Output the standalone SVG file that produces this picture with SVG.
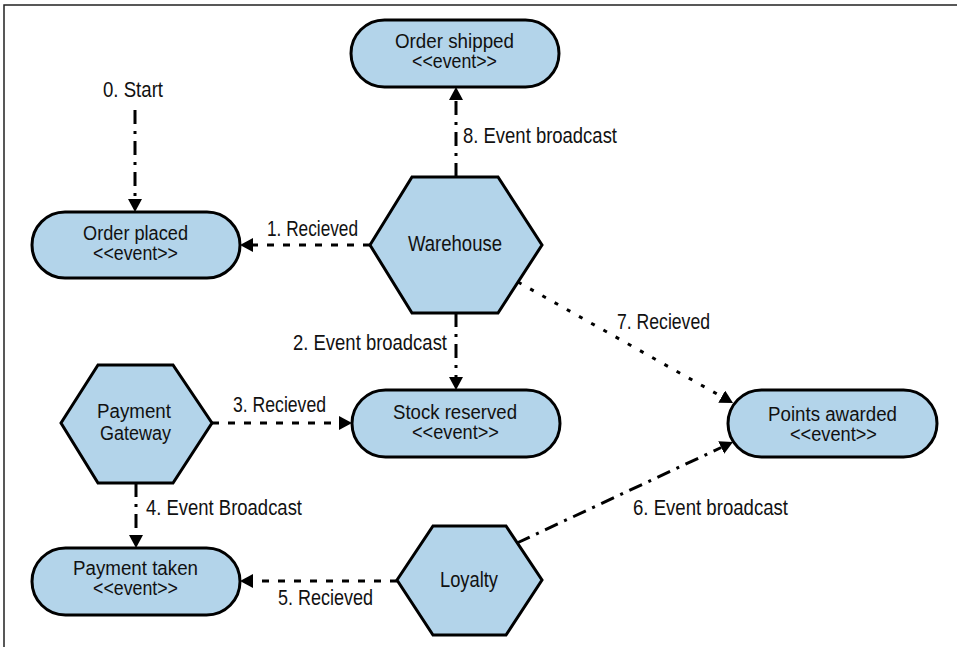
<svg xmlns="http://www.w3.org/2000/svg" width="957" height="647" viewBox="0 0 957 647">
<defs>
<marker id="ah" markerUnits="userSpaceOnUse" markerWidth="14" markerHeight="14" viewBox="0 0 14 14" refX="0" refY="7" orient="auto">
<path d="M0,0 L13,7 L0,14 z" fill="#000"/>
</marker>
<style>
.ev{fill:#b3d4ea;stroke:#000;stroke-width:3}
.hex{fill:#b3d4ea;stroke:#000;stroke-width:3;stroke-linejoin:miter}
text{font-family:"Liberation Sans Narrow","Liberation Sans",Arial,sans-serif;font-size:22px;fill:#111}
.t2{font-size:20px}
.c{fill:none;stroke:#000;stroke-width:3;marker-end:url(#ah)}
.dd{stroke-dasharray:14 7 3 7}
.ds{stroke-dasharray:7 9}
.dt{stroke-dasharray:4 10}
.frame{stroke:#222;stroke-width:1.5;fill:none}
</style>
</defs>
<rect width="957" height="647" fill="#fff"/>
<path class="frame" d="M4,647 L4,5 L957,5"/>

<g id="connectors">
<line class="c dd" x1="135" y1="110" x2="135" y2="199"/>
<line class="c ds" x1="370" y1="245" x2="253" y2="245"/>
<line class="c dd" x1="456" y1="177" x2="456" y2="100"/>
<line class="c dd" x1="456" y1="313" x2="456" y2="377"/>
<line class="c dt" x1="518" y1="282" x2="721.7" y2="396.6"/>
<line class="c ds" x1="212" y1="423" x2="339" y2="423"/>
<line class="c dd" x1="136" y1="483" x2="136" y2="535"/>
<line class="c ds" x1="397" y1="581" x2="253" y2="581"/>
<line class="c dd" x1="517" y1="543" x2="721.2" y2="447.5"/>
<text x="103" y="97" textLength="60" lengthAdjust="spacingAndGlyphs">0. Start</text>
<text x="267" y="236" textLength="91" lengthAdjust="spacingAndGlyphs">1. Recieved</text>
<text x="463" y="143" textLength="154" lengthAdjust="spacingAndGlyphs">8. Event broadcast</text>
<text x="293" y="350" textLength="154" lengthAdjust="spacingAndGlyphs">2. Event broadcast</text>
<text x="617" y="329" textLength="93" lengthAdjust="spacingAndGlyphs">7. Recieved</text>
<text x="233" y="412" textLength="93" lengthAdjust="spacingAndGlyphs">3. Recieved</text>
<text x="146" y="515" textLength="156" lengthAdjust="spacingAndGlyphs">4. Event Broadcast</text>
<text x="633" y="515" textLength="155" lengthAdjust="spacingAndGlyphs">6. Event broadcast</text>
<text x="278" y="605" textLength="95" lengthAdjust="spacingAndGlyphs">5. Recieved</text>
</g>

<g id="order-shipped">
<rect class="ev" x="351" y="20" width="208" height="67" rx="33.5"/>
<text class="t2" x="395" y="48" textLength="119" lengthAdjust="spacingAndGlyphs">Order shipped</text>
<text class="t2" x="412" y="68" textLength="85" lengthAdjust="spacingAndGlyphs">&lt;&lt;event&gt;&gt;</text>
</g>

<g id="order-placed">
<rect class="ev" x="32" y="212" width="208" height="66" rx="33"/>
<text class="t2" x="83" y="240" textLength="105" lengthAdjust="spacingAndGlyphs">Order placed</text>
<text class="t2" x="93" y="260" textLength="85" lengthAdjust="spacingAndGlyphs">&lt;&lt;event&gt;&gt;</text>
</g>

<g id="warehouse">
<polygon class="hex" points="370,245 412,177 498,177 542,245 498,313 412,313"/>
<text x="408" y="251" textLength="94" lengthAdjust="spacingAndGlyphs">Warehouse</text>
</g>

<g id="stock-reserved">
<rect class="ev" x="352" y="390" width="208" height="67" rx="33.5"/>
<text class="t2" x="393" y="419" textLength="124" lengthAdjust="spacingAndGlyphs">Stock reserved</text>
<text class="t2" x="412" y="439" textLength="87" lengthAdjust="spacingAndGlyphs">&lt;&lt;event&gt;&gt;</text>
</g>

<g id="points-awarded">
<rect class="ev" x="728" y="390" width="209" height="67" rx="33.5"/>
<text class="t2" x="768" y="421" textLength="129" lengthAdjust="spacingAndGlyphs">Points awarded</text>
<text class="t2" x="790" y="441" textLength="87" lengthAdjust="spacingAndGlyphs">&lt;&lt;event&gt;&gt;</text>
</g>

<g id="payment-gateway">
<polygon class="hex" points="61,423 98,365 173,365 212,423 173,483 98,483"/>
<text class="t2" x="97" y="418" textLength="74" lengthAdjust="spacingAndGlyphs">Payment</text>
<text class="t2" x="100" y="440" textLength="71" lengthAdjust="spacingAndGlyphs">Gateway</text>
</g>

<g id="payment-taken">
<rect class="ev" x="32" y="548" width="208" height="67" rx="33.5"/>
<text class="t2" x="73" y="575" textLength="125" lengthAdjust="spacingAndGlyphs">Payment taken</text>
<text class="t2" x="93" y="595" textLength="85" lengthAdjust="spacingAndGlyphs">&lt;&lt;event&gt;&gt;</text>
</g>

<g id="loyalty">
<polygon class="hex" points="397,580 433,526 506,526 542,580 506,635 433,635"/>
<text x="440" y="587" textLength="58" lengthAdjust="spacingAndGlyphs">Loyalty</text>
</g>
</svg>
